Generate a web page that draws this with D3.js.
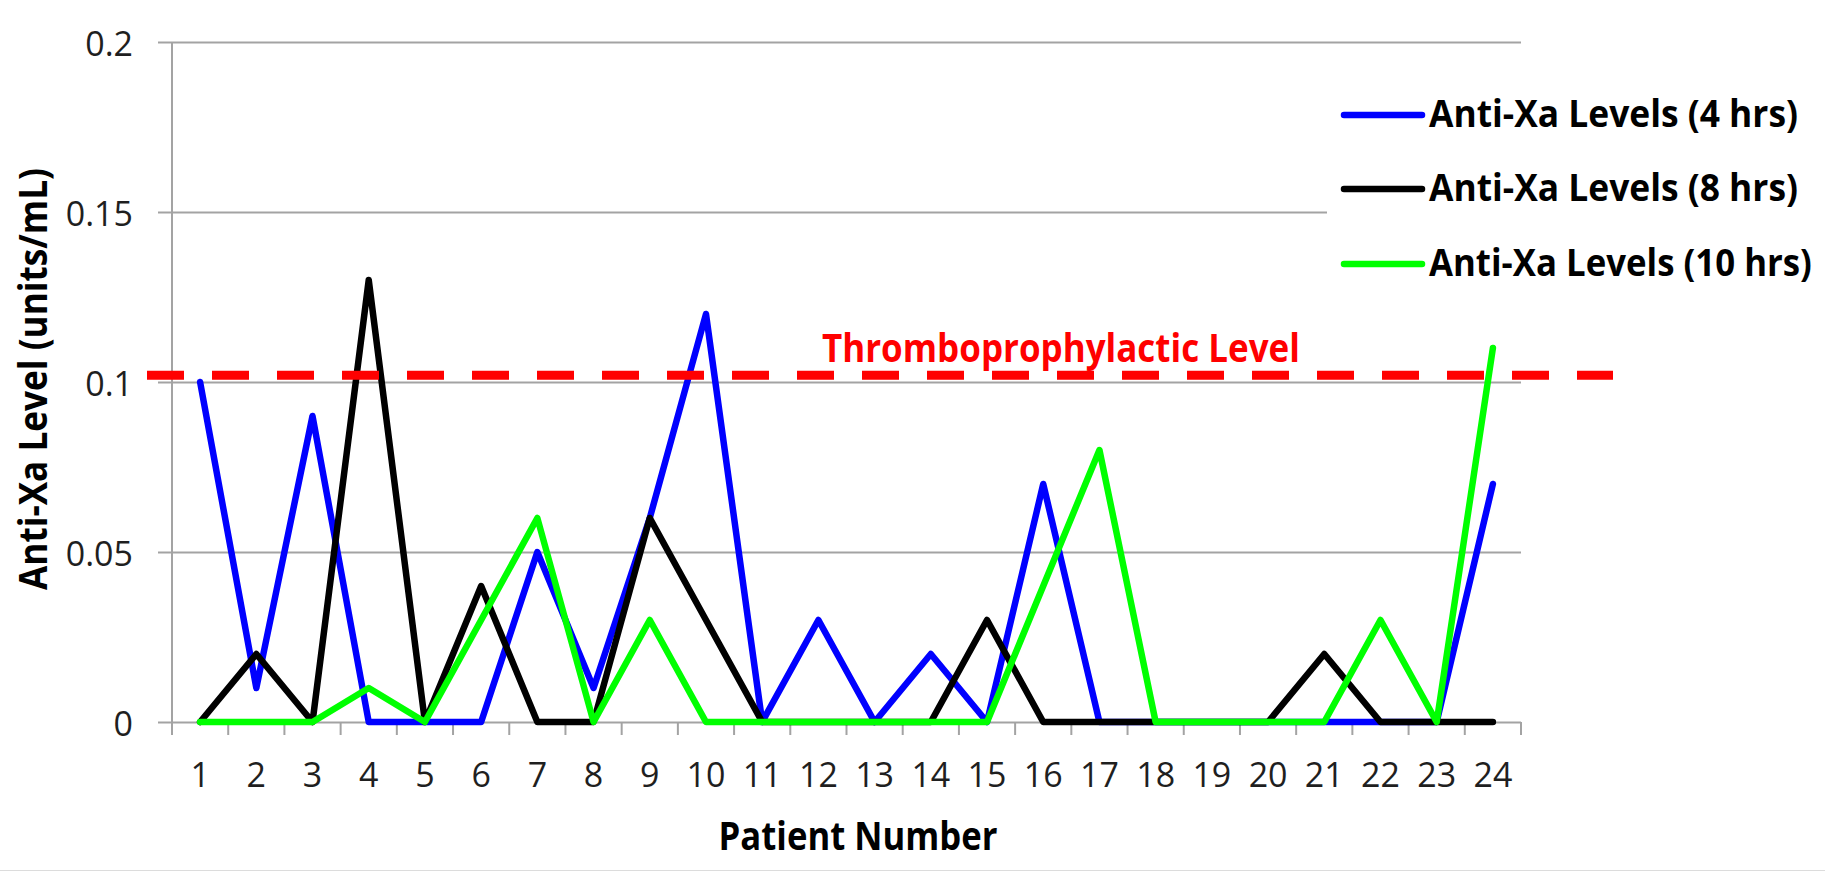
<!DOCTYPE html>
<html>
<head>
<meta charset="utf-8">
<script src="https://cdn.jsdelivr.net/npm/d3@7"></script>
<style>
  body { margin: 0; background: #fff; }
  text { font-family: "Open Sans", "Noto Sans", sans-serif; }
</style>
</head>
<body>
<div id="chart"></div>
<script>
// patients on the x axis
const patients = d3.range(1, 25);
// anti-Xa levels (units/mL)
const levels4h  = [0.10, 0.01, 0.09, 0, 0, 0, 0.05, 0.01, 0.06, 0.12, 0, 0.03, 0, 0.02, 0, 0.07, 0, 0, 0, 0, 0, 0, 0, 0.07];
const levels8h  = [0, 0.02, 0, 0.13, 0, 0.04, 0, 0, 0.06, 0.03, 0, 0, 0, 0, 0.03, 0, 0, 0, 0, 0, 0.02, 0, 0, 0];
const levels10h = [0, 0, 0, 0.01, 0, 0.03, 0.06, 0, 0.03, 0, 0, 0, 0, 0, 0, 0.04, 0.08, 0, 0, 0, 0, 0.03, 0, 0.11];
const seriesNames = ["Anti-Xa Levels (4 hrs)", "Anti-Xa Levels (8 hrs)", "Anti-Xa Levels (10 hrs)"];
const seriesColors = ["#0000ff", "#000000", "#00ff00"];
const yTicks = [0, 0.05, 0.1, 0.15, 0.2];
const yTickLabels = ["0", "0.05", "0.1", "0.15", "0.2"];
const thresholdValue = 0.102;
const thresholdLabel = "Thromboprophylactic Level";

const W = 1825, H = 871;
const plotLeft = 172, plotRight = 1521, plotTop = 42, plotBottom = 722;

const svg = d3.select("#chart").append("svg")
    .attr("width", W)
    .attr("height", H);

const xScale = d3.scaleBand()
    .domain(patients)
    .range([plotLeft, plotRight]);

const yScale = d3.scaleLinear()
    .domain([0, 0.2])
    .range([plotBottom, plotTop]);

const cx = d => xScale(d) + xScale.bandwidth() / 2;

// squeeze a text horizontally so it takes the given width (the original uses a narrow font)
function fitWidth(sel, x, y, width, rotate) {
    const natural = sel.node().getComputedTextLength();
    const s = Math.min(1, width / natural);
    sel.attr("transform", `translate(${x},${y})` + (rotate ? ` rotate(${rotate})` : "") + ` scale(${s},1)`);
}

// gridlines
const grid = svg.append("g")
    .attr("transform", `translate(158,0)`)
    .call(d3.axisRight(yScale).tickValues(yTicks).tickSize(plotRight - 158).tickFormat(""));
grid.select(".domain").remove();
grid.selectAll("line").attr("stroke", "#a3a3a3").attr("stroke-width", 2);

// y tick labels
const yAxis = svg.append("g")
    .attr("transform", `translate(${plotLeft},0)`)
    .call(d3.axisLeft(yScale).tickValues(yTicks).tickSize(0).tickPadding(39)
        .tickFormat((d, i) => yTickLabels[i]));
yAxis.select(".domain").remove();
yAxis.selectAll("text")
    .attr("font-size", 34)
    .attr("fill", "#1f1f1f")
    .attr("dy", 13)
    .style("font-family", "'Open Sans', sans-serif");

// y axis line
svg.append("line")
    .attr("x1", plotLeft).attr("x2", plotLeft)
    .attr("y1", plotTop).attr("y2", plotBottom)
    .attr("stroke", "#a3a3a3").attr("stroke-width", 2);

// x axis: ticks on category boundaries, labels in the middle
const xAxis = svg.append("g")
    .attr("transform", `translate(0,${plotBottom})`)
    .call(d3.axisBottom(xScale).tickSize(0));
xAxis.select(".domain").remove();
xAxis.selectAll("text")
    .attr("y", 65)
    .attr("dy", 0)
    .attr("font-size", 34)
    .attr("fill", "#1f1f1f")
    .style("font-family", "'Open Sans', sans-serif");

const edges = patients.map(d => xScale(d)).concat([plotRight]);
svg.append("g").selectAll("line")
    .data(edges)
    .join("line")
    .attr("x1", d => d).attr("x2", d => d)
    .attr("y1", plotBottom).attr("y2", plotBottom + 13)
    .attr("stroke", "#a3a3a3").attr("stroke-width", 2);

// series lines
const line = d3.line()
    .x((v, i) => cx(patients[i]))
    .y(v => yScale(v));

[levels4h, levels8h, levels10h].forEach((vals, k) => {
    svg.append("path")
        .datum(vals)
        .attr("d", line)
        .attr("fill", "none")
        .attr("stroke", seriesColors[k])
        .attr("stroke-width", 6.5)
        .attr("stroke-linejoin", "round")
        .attr("stroke-linecap", "round");
});

// threshold
const ty = yScale(thresholdValue);
svg.append("line")
    .attr("x1", 147).attr("x2", 1613)
    .attr("y1", ty).attr("y2", ty)
    .attr("stroke", "#ff0000")
    .attr("stroke-width", 9)
    .attr("stroke-dasharray", "37,28");

const thrText = svg.append("text")
    .attr("font-size", 40)
    .attr("font-weight", "bold")
    .attr("fill", "#ff0000")
    .text(thresholdLabel);
fitWidth(thrText, 822, ty - 13, 478);

// legend
const legend = svg.append("g");
legend.append("rect")
    .attr("x", 1327).attr("y", 70)
    .attr("width", W - 1327).attr("height", 240)
    .attr("fill", "#fff");

const legendY = [115, 189, 264];
const legendW = [369, 369, 383];
seriesNames.forEach((name, k) => {
    legend.append("line")
        .attr("x1", 1344).attr("x2", 1422)
        .attr("y1", legendY[k]).attr("y2", legendY[k])
        .attr("stroke", seriesColors[k])
        .attr("stroke-width", 6.5)
        .attr("stroke-linecap", "round");
    const t = legend.append("text")
        .attr("font-size", 37)
        .attr("font-weight", "bold")
        .attr("fill", "#000")
        .text(name);
    fitWidth(t, 1429, legendY[k] + 12, legendW[k]);
});

// axis titles
const xTitle = svg.append("text")
    .attr("text-anchor", "middle")
    .attr("font-size", 39)
    .attr("font-weight", "bold")
    .text("Patient Number");
fitWidth(xTitle, 858, 850, 279);

const yTitle = svg.append("text")
    .attr("text-anchor", "middle")
    .attr("font-size", 39)
    .attr("font-weight", "bold")
    .text("Anti-Xa Level (units/mL)");
fitWidth(yTitle, 47, 379, 422, -90);

// faint bottom border
svg.append("line")
    .attr("x1", 0).attr("x2", W)
    .attr("y1", 870.5).attr("y2", 870.5)
    .attr("stroke", "#dcdcdc").attr("stroke-width", 1);
</script>
</body>
</html>
